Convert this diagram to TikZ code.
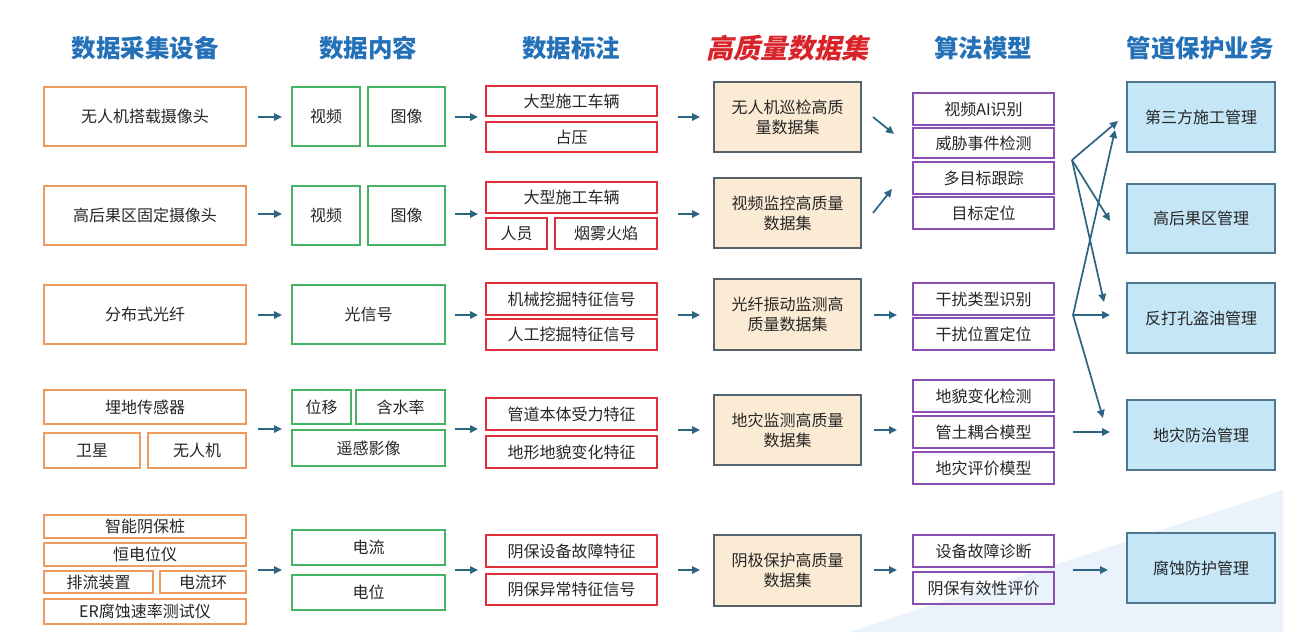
\documentclass[tikz,border=0pt]{standalone}
\usepackage{fontspec}
\setmainfont{Noto Sans CJK SC}
\newfontfamily\cjkslant[FakeSlant=0.22]{Noto Sans CJK SC}
\usetikzlibrary{arrows.meta}
\definecolor{ttlblue}{HTML}{2471B8}
\definecolor{ttlred}{HTML}{D9232B}
\definecolor{txt}{HTML}{262626}
\definecolor{oc}{HTML}{EE9A5E}
\definecolor{gc}{HTML}{45B564}
\definecolor{rc}{HTML}{E2303A}
\definecolor{pc}{HTML}{8A4FB0}
\definecolor{beigef}{HTML}{FCEBD4}
\definecolor{beiged}{HTML}{55636F}
\definecolor{bluef}{HTML}{C4E6F7}
\definecolor{blued}{HTML}{4E7890}
\definecolor{arrc}{HTML}{2C6583}
\definecolor{bgshade}{HTML}{EAF3FB}
\newcommand\bx[7]{%
  \pgfmathsetmacro\mybw{#5-#3}\pgfmathsetmacro\mybh{#6-#4}%
  \node[#1, minimum width=\mybw pt, minimum height=\mybh pt] (#2) at ({(#3+#5)/2},{(#4+#6)/2}) {#7};}
\newcommand\harr[4]{%
  \coordinate (#1s) at (#2,#4); \coordinate (#1e) at (#3,#4);
  \draw[arr] (#1s) -- (#1e);}
\begin{document}
\begin{tikzpicture}[x=1pt,y=-1pt,
  base/.style={draw, line width=1.5pt, inner sep=0pt, outer sep=0pt, text=txt, font=\fontsize{16}{20}\selectfont, align=center},
  ob/.style={base, draw=oc},
  gb/.style={base, draw=gc},
  rb/.style={base, draw=rc},
  pb/.style={base, draw=pc},
  bb/.style={base, draw=beiged, fill=beigef, line width=1.3pt},
  sb/.style={base, draw=blued, fill=bluef, line width=1.3pt},
  ttl/.style={text=ttlblue, font=\fontsize{24.5}{28}\selectfont\bfseries},
  arr/.style={draw=arrc, line width=1.7pt, -{Triangle[length=8pt,width=7.5pt]}}]
\useasboundingbox (0,0) rectangle (1310,643);
\fill[white] (0,0) rectangle (1310,643);
\fill[bgshade] (850,632) -- (1283,490) -- (1283,632) -- cycle;
% titles
\node[ttl] (t1) at (145,48) {数据采集设备};
\node[ttl] (t2) at (368,48) {数据内容};
\node[ttl] (t3) at (571,48) {数据标注};
\node[ttl, text=ttlred, font=\fontsize{27}{30}\selectfont\bfseries\cjkslant] (t4) at (787,48) {高质量数据集};
\node[ttl] (t5) at (983,48) {算法模型};
\node[ttl] (t6) at (1200,48) {管道保护业务};
% column 1
\bx{ob}{o1}{44}{87}{246}{146}{无人机搭载摄像头}
\bx{ob}{o2}{44}{186}{246}{245}{高后果区固定摄像头}
\bx{ob}{o3}{44}{285}{246}{344}{分布式光纤}
\bx{ob}{o4a}{44}{390}{246}{424}{埋地传感器}
\bx{ob}{o4b}{44}{433}{140}{468}{卫星}
\bx{ob}{o4c}{148}{433}{246}{468}{无人机}
\bx{ob}{o5a}{44}{515}{246}{538}{智能阴保桩}
\bx{ob}{o5b}{44}{543}{246}{566}{恒电位仪}
\bx{ob}{o5c}{44}{571}{153}{593}{排流装置}
\bx{ob}{o5d}{160}{571}{246}{593}{电流环}
\bx{ob}{o5e}{44}{599}{246}{624}{ER腐蚀速率测试仪}
% column 2
\bx{gb}{g1a}{292}{87}{360}{146}{视频}
\bx{gb}{g1b}{368}{87}{445}{146}{图像}
\bx{gb}{g2a}{292}{186}{360}{245}{视频}
\bx{gb}{g2b}{368}{186}{445}{245}{图像}
\bx{gb}{g3}{292}{285}{445}{344}{光信号}
\bx{gb}{g4a}{292}{390}{351}{424}{位移}
\bx{gb}{g4b}{356}{390}{445}{424}{含水率}
\bx{gb}{g4c}{292}{430}{445}{466}{遥感影像}
\bx{gb}{g5a}{292}{530}{445}{565}{电流}
\bx{gb}{g5b}{292}{575}{445}{610}{电位}
% column 3
\bx{rb}{r1a}{486}{86}{657}{116}{大型施工车辆}
\bx{rb}{r1b}{486}{122}{657}{152}{占压}
\bx{rb}{r2a}{486}{182}{657}{213}{大型施工车辆}
\bx{rb}{r2b}{486}{218}{547}{249}{人员}
\bx{rb}{r2c}{555}{218}{657}{249}{烟雾火焰}
\bx{rb}{r3a}{486}{283}{657}{315}{机械挖掘特征信号}
\bx{rb}{r3b}{486}{319}{657}{350}{人工挖掘特征信号}
\bx{rb}{r4a}{486}{398}{657}{430}{管道本体受力特征}
\bx{rb}{r4b}{486}{436}{657}{468}{地形地貌变化特征}
\bx{rb}{r5a}{486}{535}{657}{567}{阴保设备故障特征}
\bx{rb}{r5b}{486}{574}{657}{605}{阴保异常特征信号}
% column 4
\bx{bb}{b1}{714}{82}{861}{152}{无人机巡检高质\\量数据集}
\bx{bb}{b2}{714}{178}{861}{248}{视频监控高质量\\数据集}
\bx{bb}{b3}{714}{279}{861}{350}{光纤振动监测高\\质量数据集}
\bx{bb}{b4}{714}{395}{861}{465}{地灾监测高质量\\数据集}
\bx{bb}{b5}{714}{535}{861}{606}{阴极保护高质量\\数据集}
% column 5
\bx{pb}{p1a}{913}{93}{1054}{125}{视频AI识别}
\bx{pb}{p1b}{913}{128}{1054}{158}{威胁事件检测}
\bx{pb}{p1c}{913}{162}{1054}{194}{多目标跟踪}
\bx{pb}{p1d}{913}{197}{1054}{229}{目标定位}
\bx{pb}{p3a}{913}{283}{1054}{315}{干扰类型识别}
\bx{pb}{p3b}{913}{318}{1054}{350}{干扰位置定位}
\bx{pb}{p4a}{913}{380}{1054}{412}{地貌变化检测}
\bx{pb}{p4b}{913}{416}{1054}{448}{管土耦合模型}
\bx{pb}{p4c}{913}{452}{1054}{484}{地灾评价模型}
\bx{pb}{p5a}{913}{535}{1054}{567}{设备故障诊断}
\bx{pb}{p5b}{913}{572}{1054}{604}{阴保有效性评价}
% column 6
\bx{sb}{s1}{1127}{82}{1275}{152}{第三方施工管理}
\bx{sb}{s2}{1127}{184}{1275}{253}{高后果区管理}
\bx{sb}{s3}{1127}{283}{1275}{353}{反打孔盗油管理}
\bx{sb}{s4}{1127}{400}{1275}{470}{地灾防治管理}
\bx{sb}{s5}{1127}{533}{1275}{603}{腐蚀防护管理}
% arrows col1 -> col2
\harr{a11}{258}{282}{117}
\harr{a12}{258}{282}{214}
\harr{a13}{258}{282}{315}
\harr{a14}{258}{282}{429}
\harr{a15}{258}{282}{570}
% col2 -> col3
\harr{a21}{455}{478}{117}
\harr{a22}{455}{478}{214}
\harr{a23}{455}{478}{315}
\harr{a24}{455}{478}{429}
\harr{a25}{455}{478}{570}
% col3 -> col4
\harr{a31}{678}{700}{117}
\harr{a32}{678}{700}{214}
\harr{a33}{678}{700}{315}
\harr{a34}{678}{700}{430}
\harr{a35}{678}{700}{570}
% col4 -> col5
\coordinate (d1s) at (873,117); \coordinate (d1e) at (894,134);
\draw[arr] (d1s) -- (d1e);
\coordinate (d2s) at (873,213); \coordinate (d2e) at (892,189);
\draw[arr] (d2s) -- (d2e);
\harr{a43}{874}{897}{315}
\harr{a44}{874}{897}{430}
\harr{a45}{874}{897}{570}
% col5 -> col6
\coordinate (A) at (1072,160);
\coordinate (B) at (1073,315);
\coordinate (A1) at (1118,121);
\coordinate (A2) at (1110,221);
\coordinate (A3) at (1104,302);
\coordinate (B1) at (1115,130);
\coordinate (B2) at (1110,315);
\coordinate (B3) at (1103,418);
\draw[arr] (A) -- (A1);
\draw[arr] (A) -- (A2);
\draw[arr] (A) -- (A3);
\draw[arr] (B) -- (B1);
\draw[arr] (B) -- (B2);
\draw[arr] (B) -- (B3);
\harr{a54}{1073}{1110}{432}
\harr{a55}{1073}{1108}{570}
\end{tikzpicture}
\end{document}
